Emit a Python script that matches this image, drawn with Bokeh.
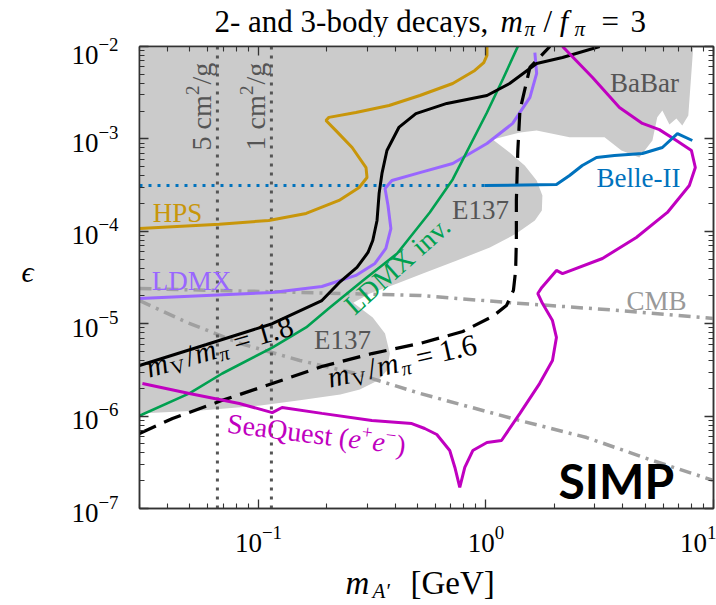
import math
from bokeh.plotting import figure
from bokeh.layouts import column, row
from bokeh.models import Label, FixedTicker, LogAxis, Range1d
from bokeh.embed import file_html
from bokeh.resources import INLINE

# ---------------- data ----------------
x_min, x_max = 0.03, 10.0
y_min, y_max = 1e-7, 1e-2

x_major = [0.1, 1.0, 10.0]
y_major = [1e-7, 1e-6, 1e-5, 1e-4, 1e-3, 1e-2]
x_minor = [m * d for d in (0.01, 0.1, 1.0) for m in range(2, 10)]
y_minor = [m * d for d in (1e-7, 1e-6, 1e-5, 1e-4, 1e-3) for m in range(2, 10)]

# excluded region (BaBar + E137), grey
excluded_m = [0.030, 8.15, 7.75, 7.29, 6.87, 6.40, 5.96, 5.66, 5.39, 4.72, 3.94, 3.32, 2.33,
              1.67, 1.41, 1.07, 1.27, 1.48, 1.67, 1.77, 1.76, 1.64, 1.36, 1.04, 0.745, 0.528,
              0.407, 0.309, 0.261, 0.318, 0.360, 0.378, 0.367, 0.335, 0.279, 0.229, 0.152,
              0.102, 0.0556, 0.030]
excluded_eps = [1e-2, 1e-2, 1.79e-3, 1.40e-3, 1.66e-3, 1.43e-3, 2.03e-3, 1.71e-3, 9.61e-4,
                6.30e-4, 7.48e-4, 1.04e-3, 1.04e-3, 1.23e-3, 1.17e-3, 9.86e-4, 7.13e-4,
                5.15e-4, 3.55e-4, 2.44e-4, 1.68e-4, 1.31e-4, 9.46e-5, 6.68e-5, 4.83e-5,
                3.49e-5, 2.72e-5, 2.12e-5, 1.69e-5, 1.17e-5, 7.83e-6, 4.75e-6, 3.12e-6,
                2.43e-6, 1.94e-6, 1.71e-6, 1.48e-6, 1.30e-6, 1.15e-6, 1.07e-6]

hps_m = [0.030, 0.0673, 0.111, 0.162, 0.226, 0.277, 0.300, 0.297, 0.258, 0.219, 0.198,
         0.204, 0.268, 0.375, 0.512, 0.714, 0.893, 0.978, 1.01, 1.01]
hps_eps = [1.07e-4, 1.19e-4, 1.31e-4, 1.56e-4, 2.16e-4, 2.98e-4, 3.82e-4, 4.90e-4, 8.07e-4,
           1.23e-3, 1.58e-3, 1.71e-3, 1.93e-3, 2.30e-3, 2.95e-3, 3.98e-3, 5.50e-3, 6.71e-3,
           8.0e-3, 1e-2]

ldmx_m = [0.030, 0.0591, 0.115, 0.190, 0.268, 0.325, 0.363, 0.382, 0.371, 0.360, 0.386,
          0.512, 0.714, 1.01, 1.31, 1.56, 1.67, 1.64]
ldmx_eps = [1.87e-5, 2.02e-5, 2.18e-5, 2.53e-5, 3.33e-5, 4.49e-5, 6.52e-5, 1.07e-4, 1.90e-4,
            2.90e-4, 3.55e-4, 4.32e-4, 5.42e-4, 8.91e-4, 1.47e-3, 2.81e-3, 5.11e-3, 8.61e-3]

ldmx_inv_m = [0.030, 0.0497, 0.0693, 0.115, 0.162, 0.206, 0.288, 0.407, 0.566, 0.714,
              1.01, 1.19, 1.38]
ldmx_inv_eps = [1.01e-6, 1.76e-6, 2.89e-6, 5.52e-6, 9.10e-6, 1.50e-5, 2.94e-5, 5.75e-5,
                1.60e-4, 3.64e-4, 1.93e-3, 4.51e-3, 1e-2]

ratio18_m = [0.030, 0.0591, 0.115, 0.190, 0.229, 0.271, 0.303, 0.318, 0.332, 0.339, 0.349,
             0.367, 0.414, 0.492, 0.673, 1.01, 1.27, 1.67, 2.17, 3.16]
ratio18_eps = [3.53e-6, 5.96e-6, 1.00e-5, 1.78e-5, 2.86e-5, 4.06e-5, 5.90e-5, 7.95e-5,
               1.31e-4, 2.56e-4, 4.23e-4, 7.48e-4, 1.33e-3, 1.88e-3, 2.42e-3, 2.95e-3,
               3.98e-3, 6.55e-3, 7.60e-3, 1e-2]

ratio16_m = [0.030, 0.0419, 0.0693, 0.115, 0.190, 0.315, 0.512, 0.791, 1.07, 1.23, 1.32,
             1.35, 1.36, 1.36, 1.38, 1.41, 1.56, 1.91]
ratio16_eps = [6.49e-7, 9.42e-7, 1.48e-6, 2.25e-6, 3.44e-6, 4.75e-6, 6.11e-6, 8.24e-6,
               1.20e-5, 1.57e-5, 2.29e-5, 3.77e-5, 7.95e-5, 2.16e-4, 7.48e-4, 2.03e-3,
               5.93e-3, 1e-2]

seaquest_m = [0.0309, 0.0497, 0.0824, 0.115, 0.127, 0.190, 0.315, 0.472, 0.538, 0.608,
              0.693, 0.730, 0.767, 0.807, 0.875, 1.01, 1.17, 1.41, 1.72, 1.96, 2.04, 1.96,
              1.77, 1.69, 1.76, 2.04, 2.17, 3.25, 4.58, 6.27, 7.83, 8.32, 8.0, 6.87, 5.78,
              4.87, 3.86, 2.94, 2.17]
seaquest_eps = [2.25e-6, 1.76e-6, 1.37e-6, 1.09e-6, 1.24e-6, 1.07e-6, 8.95e-7, 8.31e-7,
                7.34e-7, 6.32e-7, 4.24e-7, 2.78e-7, 1.69e-7, 2.78e-7, 4.24e-7, 5.18e-7,
                5.44e-7, 1.07e-6, 2.25e-6, 4.0e-6, 7.10e-6, 1.08e-5, 1.66e-5, 2.12e-5,
                2.47e-5, 3.77e-5, 3.49e-5, 5.08e-5, 8.57e-5, 1.60e-4, 3.13e-4, 4.90e-4,
                7.48e-4, 9.61e-4, 1.26e-3, 1.47e-3, 2.19e-3, 4.62e-3, 1e-2]

belle_m = [0.986, 2.04, 2.33, 2.65, 3.06, 3.67, 4.87, 5.96, 6.94, 8.07]
belle_eps = [3.13e-4, 3.21e-4, 4.02e-4, 5.15e-4, 6.30e-4, 6.61e-4, 6.95e-4, 8.07e-4,
             1.14e-3, 9.61e-4]
belle_proj_m = [0.030, 0.986]
belle_proj_eps = [3.13e-4, 3.13e-4]

cmb_a_m = [0.030, 0.152, 0.512, 1.27, 3.86, 10.0]
cmb_a_eps = [2.40e-5, 2.18e-5, 2.02e-5, 1.69e-5, 1.39e-5, 1.14e-5]
cmb_b_m = [0.030, 0.0487, 0.0832, 0.152, 0.268, 0.512, 1.41, 2.77, 5.39, 10.0]
cmb_b_eps = [1.78e-5, 1.03e-5, 6.11e-6, 4.0e-6, 2.89e-6, 1.76e-6, 8.95e-7, 5.86e-7,
             3.31e-7, 2.01e-7]

sigma_m = [0.066, 0.114]          # 5 cm^2/g and 1 cm^2/g
sigma_labels = ["5 cm", "1 cm"]

# ---------------- styling / geometry ----------------
SERIF = "Liberation Serif"
GREY_FILL = "#cbcbcb"
C_HPS = "#c8960a"
C_LDMX = "#9966ff"
C_GREEN = "#00a050"
C_BLUE = "#0072bd"
C_MAG = "#c000c0"
C_CMB = "#a0a0a0"
C_TXT = "#555555"
BASE_SHIFT = 0.27      # em: lifts labels so their baseline lands where intended

FRAME_L, FRAME_T, FW, FH = 139, 46, 574, 462   # frame position on the page
TITLE_H = 37
EPS_W = 60
TOP_B, BOT_B = FRAME_T - TITLE_H, 52
MAIN_H = TOP_B + FH + BOT_B
XLAB_Y0 = TITLE_H + MAIN_H
XLAB_H = 43


def text_fig(w, h):
    f = figure(title=None, frame_width=w, frame_height=h, min_border=0,
               x_range=Range1d(0, w), y_range=Range1d(0, h),
               x_axis_location=None, y_axis_location=None,
               toolbar_location=None, output_backend="svg", outline_line_color=None,
               background_fill_color="white", border_fill_color="white")
    f.grid.visible = False
    return f


title_fig = text_fig(716, TITLE_H)
eps_fig = text_fig(EPS_W, MAIN_H)
xlab_fig = text_fig(716, XLAB_H)

plot = figure(title=None, x_axis_type="log", y_axis_type="log",
              x_range=(x_min, x_max), y_range=(y_min, y_max),
              frame_width=FW, frame_height=FH,
              min_border_left=FRAME_L - EPS_W, min_border_right=3,
              min_border_top=TOP_B, min_border_bottom=BOT_B,
              output_backend="svg", toolbar_location=None,
              background_fill_color="white", border_fill_color="white")
plot.grid.visible = False
plot.outline_line_color = "#333333"
plot.outline_line_width = 1.5

top_axis = LogAxis()
right_axis = LogAxis()
plot.add_layout(top_axis, "above")
plot.add_layout(right_axis, "right")
bottom_axis = plot.below[0]
left_axis = plot.left[0]
for ax in [bottom_axis, top_axis]:
    ax.ticker = FixedTicker(ticks=x_major, minor_ticks=x_minor)
for ax in [left_axis, right_axis]:
    ax.ticker = FixedTicker(ticks=y_major, minor_ticks=y_minor)
for ax in [bottom_axis, top_axis, left_axis, right_axis]:
    ax.major_tick_in = 9
    ax.major_tick_out = 0
    ax.minor_tick_in = 5
    ax.minor_tick_out = 0
    ax.axis_line_color = "#333333"
    ax.axis_line_width = 1.5
    ax.major_tick_line_color = "#333333"
    ax.major_tick_line_width = 1.3
    ax.minor_tick_line_color = "#333333"
    ax.minor_tick_line_width = 1.1
for ax in [top_axis, right_axis]:
    ax.major_label_text_font_size = "1px"
    ax.major_label_text_color = None
    ax.major_label_standoff = 0
for ax in [bottom_axis, left_axis]:
    ax.major_label_text_font = SERIF
    ax.major_label_text_font_size = "27px"
    ax.major_label_text_color = "black"
left_axis.major_label_standoff = 21
bottom_axis.major_label_standoff = 17

# ---------------- marks ----------------
plot.patch(excluded_m, excluded_eps, fill_color=GREY_FILL, line_color=None)
plot.line(cmb_a_m, cmb_a_eps, line_color=C_CMB, line_width=3.5, line_dash="12 6 3 6")
plot.line(cmb_b_m, cmb_b_eps, line_color=C_CMB, line_width=3.5, line_dash="12 6 3 6")
for xm in sigma_m:
    plot.line([xm, xm], [y_min, y_max], line_color="#555555", line_width=3, line_dash="3 6")
plot.line(belle_proj_m, belle_proj_eps, line_color=C_BLUE, line_width=3, line_dash="3 6")
plot.line(hps_m, hps_eps, line_color=C_HPS, line_width=3)
plot.line(ldmx_m, ldmx_eps, line_color=C_LDMX, line_width=3)
plot.line(ldmx_inv_m, ldmx_inv_eps, line_color=C_GREEN, line_width=2.6)
plot.line(ratio18_m, ratio18_eps, line_color="black", line_width=3)
plot.line(ratio16_m, ratio16_eps, line_color="black", line_width=3.2, line_dash="18 9")
plot.line(seaquest_m, seaquest_eps, line_color=C_MAG, line_width=3)
plot.line(belle_m, belle_eps, line_color=C_BLUE, line_width=3)

# ---------------- text helpers ----------------
LX0, LX1 = math.log10(x_min), math.log10(x_max)
LY0, LY1 = math.log10(y_min), math.log10(y_max)


def X(px):
    return 10 ** (LX0 + (px - FRAME_L) * (LX1 - LX0) / FW)


def Y(py):
    return 10 ** (LY1 - (py - FRAME_T) * (LY1 - LY0) / FH)


def PX(x):
    return FRAME_L + (math.log10(x) - LX0) * FW / (LX1 - LX0)


WIDTHS = {' ': .25, '(': .333, ')': .333, '+': .564, '−': .564, '=': .564, '.': .25,
          '/': .278, ',': .25, '-': .333, '[': .333, ']': .333, 'S': .556, 'e': .444,
          'a': .444, 'Q': .722, 'u': .5, 's': .389, 't': .278, 'V': .722, 'G': .722,
          'c': .444, 'm': .75, 'g': .5, 'L': .611, 'D': .722, 'M': .889, 'X': .722,
          'i': .278, 'n': .5, 'v': .5, 'π': .5, 'f': .3}


def _label(fig, x, y, text, size, color, italic, bold, align, angle, font):
    style = "bold" if bold else ("italic" if italic else "normal")
    fig.add_layout(Label(x=x, y=y, text=text, text_font=font,
                         text_font_size=f"{size}px", text_font_style=style,
                         text_color=color, text_align=align,
                         text_baseline="alphabetic", angle=angle))


def put(px, py, text, size, color="black", italic=False, bold=False, align="left",
        angle=0.0, font=SERIF):
    """text inside the plot frame; (px, py) is the wanted baseline point on the page"""
    lift = BASE_SHIFT * size
    px, py = px - lift * math.sin(angle), py - lift * math.cos(angle)
    _label(plot, X(px), Y(py), text, size, color, italic, bold, align, angle, font)


def put_on(fig, h, x0, y0, px, py, text, size, italic=False, align="left"):
    """text on one of the small text strips (page pixel baseline point)"""
    py = py - BASE_SHIFT * size
    _label(fig, px - x0, h - (py - y0), text, size, "black", italic, False, align, 0.0,
           SERIF)


def rich(px, py, angle_deg, parts, color):
    th = math.radians(angle_deg)
    ux, uy = math.cos(th), -math.sin(th)
    vx, vy = -math.sin(th), -math.cos(th)
    d = 0.0
    for text, size, italic, rise, gap in parts:
        d += gap
        put(px + d * ux + rise * vx, py + d * uy + rise * vy, text, size, color,
            italic=italic, angle=th)
        d += sum(WIDTHS.get(c, 0.5) for c in text) * size


# title strip
put_on(title_fig, TITLE_H, 0, 0, 214, 29, "2- and 3-body decays,", 31)
put_on(title_fig, TITLE_H, 0, 0, 500, 29, "m", 31, italic=True)
put_on(title_fig, TITLE_H, 0, 0, 524, 34, "π", 21, italic=True)
put_on(title_fig, TITLE_H, 0, 0, 543, 29, "/", 31)
put_on(title_fig, TITLE_H, 0, 0, 559, 29, "f", 31, italic=True)
put_on(title_fig, TITLE_H, 0, 0, 574, 34, "π", 21, italic=True)
put_on(title_fig, TITLE_H, 0, 0, 601, 29, "=", 31)
put_on(title_fig, TITLE_H, 0, 0, 630, 29, "3", 31)

# axis titles
put_on(xlab_fig, XLAB_H, 0, XLAB_Y0, 345, 591, "m", 33, italic=True)
put_on(xlab_fig, XLAB_H, 0, XLAB_Y0, 372, 596, "A′", 21, italic=True)
put_on(xlab_fig, XLAB_H, 0, XLAB_Y0, 410, 591, "[GeV]", 33)
put_on(eps_fig, MAIN_H, 0, TITLE_H, 27, 270, "ϵ", 30, italic=True, align="center")

# region / curve labels
put(177, 220, "HPS", 27, C_HPS, align="center")
put(191, 288, "LDMX", 27, C_LDMX, align="center")
put(480, 217, "E137", 27, C_TXT, align="center")
put(342, 347, "E137", 27, C_TXT, align="center")
put(644, 90, "BaBar", 27, C_TXT, align="center")
put(638, 185, "Belle-II", 27, C_BLUE, align="center")
put(656, 308, "CMB", 27, "#999999", align="center")
put(558, 493, "SIMP", 48, "black", bold=True, font="Lato")

rich(353, 314, 41.6, [("LDMX inv.", 28, False, 0, 0)], C_GREEN)
for xm, lab in zip(sigma_m, sigma_labels):
    rich(PX(xm) - 8, 150, 90, [(lab, 28, False, 0, 0), ("2", 19, False, 12, 1),
                               ("/g", 28, False, 0, 1)], C_TXT)
rich(148, 375, 16, [("m", 30, True, 0, 0), ("V", 20, False, -5, 1), ("/", 30, False, 0, 3),
                    ("m", 30, True, 0, 1), ("π", 20, True, -5, 1), ("=", 30, False, 0, 7),
                    ("1.8", 30, False, 0, 7)], "black")
rich(329, 385, 12.6, [("m", 30, True, 0, 0), ("V", 20, False, -5, 1), ("/", 30, False, 0, 3),
                      ("m", 30, True, 0, 1), ("π", 20, True, -5, 1), ("=", 30, False, 0, 7),
                      ("1.6", 30, False, 0, 7)], "black")
rich(226, 430, -7.2, [("SeaQuest (", 28, False, 0, 0), ("e", 28, True, 0, 0),
                      ("+", 19, False, 11, 0), ("e", 28, True, 0, 1),
                      ("−", 19, False, 11, 0), (")", 28, False, 0, 1)], C_MAG)

p = column(title_fig, row(eps_fig, plot), xlab_fig)
open("out.html", "w").write(file_html(p, INLINE))
